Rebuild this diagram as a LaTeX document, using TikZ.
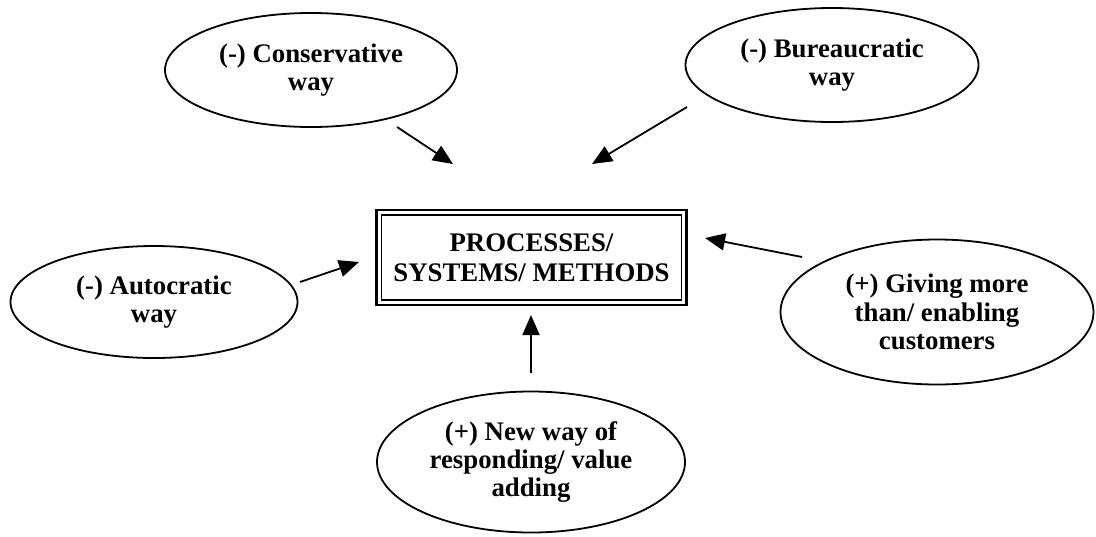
\documentclass[tikz,border=0pt]{standalone}
\usepackage{fontspec}
\setmainfont{Liberation Serif}
\usetikzlibrary{shapes.geometric,arrows.meta}

\begin{document}
\begin{tikzpicture}[x=0.5pt,y=-0.5pt]
\tikzset{
  bubble/.style={draw, ellipse, line width=0.9pt, inner sep=0pt, align=center,
    font=\bfseries\fontsize{13.4}{14.2}\selectfont},
  centrebox/.style={draw, rectangle, line width=1.4pt, inner sep=0pt, align=center,
    minimum width=155pt, minimum height=47.5pt,
    font=\bfseries\fontsize{13.4}{15}\selectfont},
  pointer/.style={line width=0.9pt, -{Triangle[length=10pt,width=8.5pt]}}
}
\fill[white] (0,0) rectangle (1096,536);
\useasboundingbox (0,0) rectangle (1096,536);

% central box with its inner frame
\node[centrebox] (box) at (531.5,257.5) {PROCESSES/\\SYSTEMS/ METHODS};
\draw[line width=0.8pt] ([shift={(3.25pt,-3.25pt)}]box.north west)
  rectangle ([shift={(-3.25pt,3.25pt)}]box.south east);

% influences
\node[bubble, minimum width=146pt, minimum height=57pt] (cons) at (311,70)
  {(-) Conservative\\way};
\node[bubble, minimum width=146.5pt, minimum height=57pt] (bur) at (832,65)
  {(-) Bureaucratic\\way};
\node[bubble, minimum width=143.5pt, minimum height=56pt] (auto) at (154,302)
  {(-) Autocratic\\way};
\node[bubble, minimum width=156.5pt, minimum height=72.5pt] (give) at (937,312)
  {(+) Giving more\\than/ enabling\\customers};
\node[bubble, minimum width=154pt, minimum height=70.5pt] (resp) at (531,462)
  {(+) New way of\\responding/ value\\adding};

% arrow ends
\coordinate (consFrom) at (397,127);
\coordinate (consTo) at (453,164);
\coordinate (burFrom) at (687,107);
\coordinate (burTo) at (592,164);
\coordinate (autoFrom) at (300,282);
\coordinate (autoTo) at (359,262);
\coordinate (giveFrom) at (802,257);
\coordinate (giveTo) at (705,238);
\coordinate (respFrom) at (531,373);
\coordinate (respTo) at (531,315);

\draw[pointer] (consFrom) -- (consTo);
\draw[pointer] (burFrom) -- (burTo);
\draw[pointer] (autoFrom) -- (autoTo);
\draw[pointer] (giveFrom) -- (giveTo);
\draw[pointer] (respFrom) -- (respTo);
\end{tikzpicture}
\end{document}
